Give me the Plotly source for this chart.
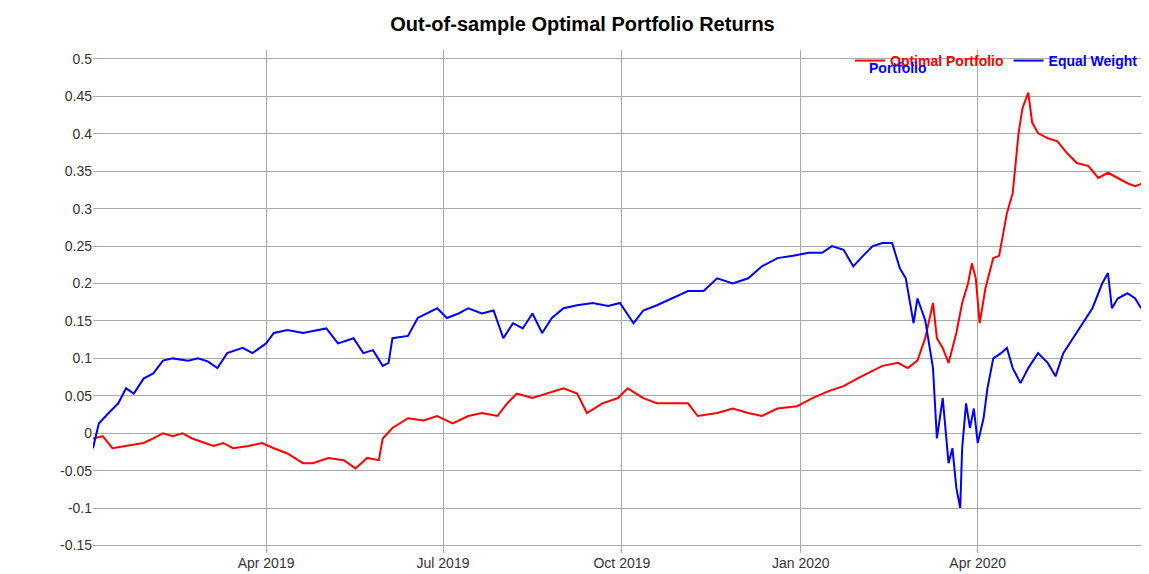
import pandas as pd
import plotly.graph_objs as go

start = pd.Timestamp('2019-01-02')

# days since start, and cumulative return
eq_days = [0, 3, 8, 13, 17, 21, 26, 31, 36, 41, 49, 54, 59, 64, 69, 77, 82, 89, 93, 100, 108, 116, 120, 126,
           134, 139, 144, 149, 152, 154, 162, 167, 172, 177, 182, 188, 193, 200, 206, 211, 216, 221, 226, 231,
           236, 242, 249, 257, 265, 271, 278, 283, 290, 298, 306, 314, 321, 329, 337, 344, 352, 360, 368, 375,
           380, 386, 391, 396, 401, 406, 411, 415, 418, 422, 424, 428, 432, 434, 437, 440, 442, 444, 446, 447,
           449, 451, 453, 455, 458, 460, 463, 467, 470, 473, 477, 481, 486, 491, 495, 499, 504, 509, 514, 519,
           522, 524, 527, 532, 536, 539]
eq_ret = [-0.02, 0.013, 0.027, 0.04, 0.06, 0.053, 0.073, 0.08, 0.097, 0.10, 0.097, 0.10, 0.096, 0.087, 0.107,
          0.114, 0.107, 0.12, 0.134, 0.138, 0.134, 0.138, 0.14, 0.12, 0.127, 0.107, 0.111, 0.09, 0.094, 0.127,
          0.13, 0.154, 0.16, 0.167, 0.154, 0.16, 0.167, 0.16, 0.164, 0.127, 0.147, 0.14, 0.16, 0.134, 0.154,
          0.167, 0.171, 0.174, 0.17, 0.174, 0.147, 0.164, 0.171, 0.18, 0.19, 0.19, 0.207, 0.2, 0.207, 0.223,
          0.234, 0.237, 0.241, 0.241, 0.25, 0.245, 0.223, 0.237, 0.25, 0.254, 0.254, 0.22, 0.207, 0.147, 0.18,
          0.151, 0.087, -0.007, 0.047, -0.04, -0.02, -0.073, -0.1, -0.02, 0.04, 0.007, 0.033, -0.013, 0.02,
          0.06, 0.1, 0.107, 0.114, 0.087, 0.067, 0.087, 0.107, 0.094, 0.076, 0.107, 0.127, 0.147, 0.167, 0.2,
          0.214, 0.167, 0.18, 0.187, 0.18, 0.167]

opt_days = [0, 5, 10, 18, 26, 31, 36, 41, 46, 51, 57, 62, 67, 72, 80, 87, 93, 100, 108, 113, 121, 129, 135,
            141, 147, 149, 154, 162, 170, 177, 185, 193, 200, 208, 213, 218, 226, 234, 242, 249, 254, 262, 270,
            275, 283, 290, 298, 306, 311, 321, 329, 337, 344, 352, 362, 370, 378, 386, 393, 401, 406, 414, 419,
            424, 428, 432, 434, 437, 440, 444, 447, 450, 452, 454, 456, 459, 463, 466, 470, 473, 476, 478, 481,
            483, 486, 491, 496, 501, 506, 512, 517, 522, 527, 532, 536, 540]
opt_ret = [-0.007, -0.004, -0.02, -0.017, -0.013, -0.007, 0.0, -0.004, 0.0, -0.007, -0.013, -0.017, -0.013,
           -0.02, -0.017, -0.013, -0.02, -0.027, -0.04, -0.04, -0.033, -0.036, -0.047, -0.033, -0.036, -0.007,
           0.007, 0.02, 0.017, 0.023, 0.013, 0.023, 0.027, 0.023, 0.04, 0.053, 0.047, 0.053, 0.06, 0.053, 0.027,
           0.04, 0.047, 0.06, 0.047, 0.04, 0.04, 0.04, 0.023, 0.027, 0.033, 0.027, 0.023, 0.033, 0.036, 0.047,
           0.056, 0.063, 0.073, 0.084, 0.09, 0.094, 0.087, 0.097, 0.127, 0.174, 0.127, 0.114, 0.094, 0.134,
           0.174, 0.2, 0.227, 0.207, 0.147, 0.194, 0.234, 0.237, 0.294, 0.321, 0.401, 0.434, 0.455, 0.415,
           0.401, 0.394, 0.39, 0.374, 0.361, 0.357, 0.341, 0.348, 0.341, 0.334, 0.33, 0.334]

y_ticks = [-0.15, -0.1, -0.05, 0, 0.05, 0.1, 0.15, 0.2, 0.25, 0.3, 0.35, 0.4, 0.45, 0.5]
y_labels = ['-0.15', '-0.1', '-0.05', '0', '0.05', '0.1', '0.15', '0.2', '0.25', '0.3', '0.35', '0.4', '0.45', '0.5']
x_ticks = ['2019-04-01', '2019-07-01', '2019-10-01', '2020-01-01', '2020-04-01']
x_labels = ['Apr 2019', 'Jul 2019', 'Oct 2019', 'Jan 2020', 'Apr 2020']

eq_x = [start + pd.Timedelta(days=d) for d in eq_days]
opt_x = [start + pd.Timedelta(days=d) for d in opt_days]

fig = go.Figure()
fig.add_trace(go.Scatter(x=opt_x, y=opt_ret, mode='lines',
                         name='<b><span style="color:red">Optimal Portfolio</span></b>',
                         line=dict(color='red', width=2)))
fig.add_trace(go.Scatter(x=eq_x, y=eq_ret, mode='lines',
                         name='<b><span style="color:blue">Equal Weight</span></b>',
                         line=dict(color='blue', width=2)))

fig.update_layout(
    width=1149, height=574,
    title=dict(text='<b>Out-of-sample Optimal Portfolio Returns</b>', x=0.5, y=0.985, yanchor='top',
               font=dict(family='Arial', size=20, color='black')),
    font=dict(family='Arial', size=14, color='#333'),
    plot_bgcolor='white', paper_bgcolor='white',
    margin=dict(l=85, r=14, t=42, b=29),
    showlegend=True,
    legend=dict(orientation='h', x=1, xanchor='right', y=1.01, yanchor='top',
                font=dict(family='Arial', size=14), bgcolor='rgba(0,0,0,0)',
                itemwidth=30, tracegroupgap=0),
    xaxis=dict(range=[start, start + pd.Timedelta(days=540)], showgrid=True, gridcolor='#aaa',
               tickvals=x_ticks, ticktext=x_labels, showline=False, zeroline=False),
    yaxis=dict(range=[-0.16, 0.512], tickvals=y_ticks, ticktext=y_labels, showgrid=True,
               gridcolor='#aaa', zeroline=False),
)
fig.add_annotation(text='<b>Portfolio</b>', xref='paper', yref='paper', x=0.737, y=0.985,
                   xanchor='left', yanchor='top', showarrow=False,
                   font=dict(family='Arial', size=14, color='blue'))

fig.write_html("out.html")
